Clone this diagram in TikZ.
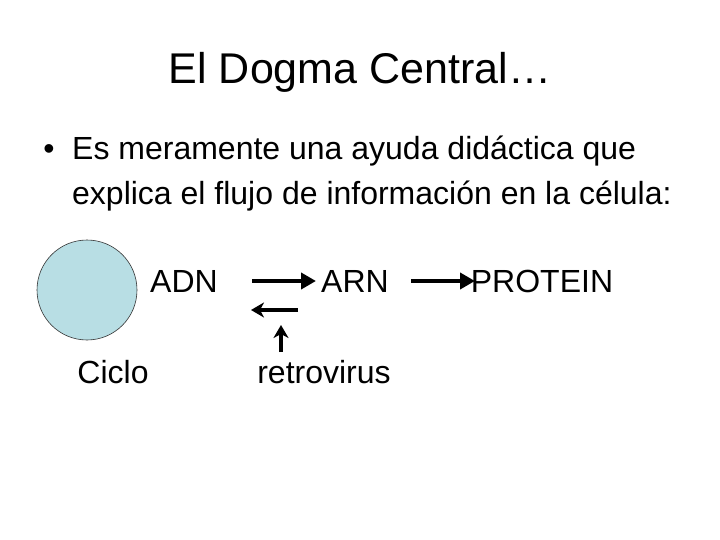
\documentclass[tikz,border=0pt]{standalone}
\usepackage{fontspec}
\setmainfont{Liberation Sans}
\usetikzlibrary{arrows.meta}
\definecolor{cellblue}{RGB}{184,222,228}
\begin{document}
\begin{tikzpicture}[x=1pt,y=-1pt,
  txt/.style={inner sep=0pt,anchor=base,font=\fontsize{32}{38}\selectfont},
  arr/.style={line width=4.5pt,-{Triangle[length=15pt,width=16pt]}},
  barr/.style={line width=4.5pt,-{Stealth[length=13pt,width=15pt,inset=4pt]}}]
\useasboundingbox (0,0) rectangle (720,540);
\node[inner sep=0pt,anchor=base,font=\fontsize{43}{52}\selectfont] (title) at (360,84) {El Dogma Central…};
\node[txt] (bul) at (49,160) {•};
\node[txt,anchor=base west] (l1) at (72,160) {Es meramente una ayuda didáctica que};
\node[txt,anchor=base west] (l2) at (72,205) {explica el flujo de información en la célula:};
\node[circle,draw=black!80,line width=0.6pt,fill=cellblue,minimum size=100pt,inner sep=0pt] (cell) at (87,290) {};
\node[txt] (adn) at (184,292) {ADN};
\node[txt] (arn) at (355,292) {ARN};
\node[txt] (prot) at (542,292) {PROTEIN};
\node[txt] (ciclo) at (113,383) {Ciclo};
\node[txt] (retro) at (324,383) {retrovirus};
\coordinate (a1s) at (252,281); \coordinate (a1e) at (316,281);
\coordinate (a2s) at (411,281); \coordinate (a2e) at (475,281);
\coordinate (b1s) at (298,310); \coordinate (b1e) at (251,310);
\coordinate (u1s) at (281,352); \coordinate (u1e) at (281,325);
\draw[arr] (a1s) -- (a1e);
\draw[arr] (a2s) -- (a2e);
\draw[barr] (b1s) -- (b1e);
\draw[barr] (u1s) -- (u1e);
\end{tikzpicture}
\end{document}
